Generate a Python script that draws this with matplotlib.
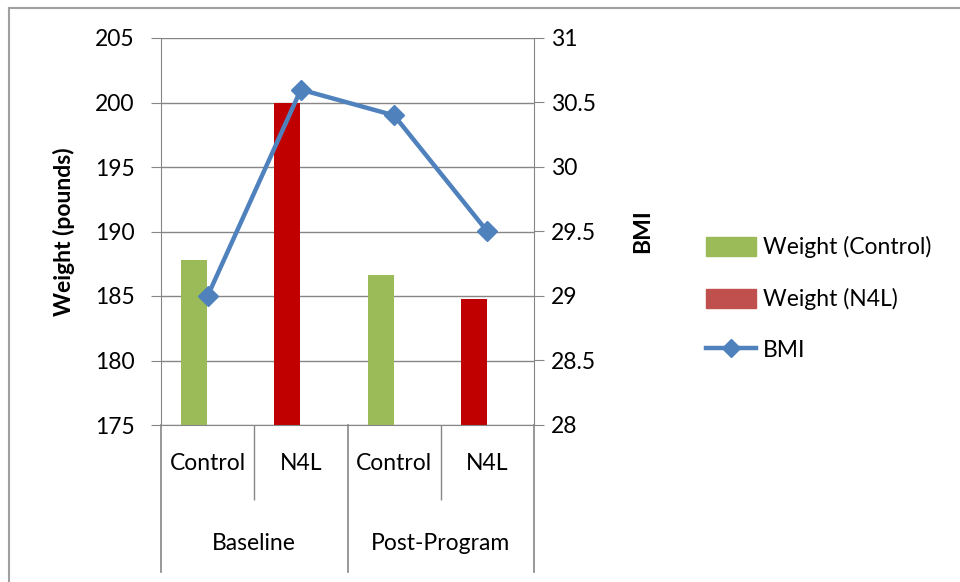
import numpy as np
import matplotlib.pyplot as plt
from matplotlib.patches import Patch
from matplotlib.lines import Line2D

plt.rcParams['font.family'] = ['Lato', 'DejaVu Sans']

subgroups = ['Control', 'N4L', 'Control', 'N4L']
groups = ['Baseline', 'Post-Program']
weight = [187.8, 200.0, 186.6, 184.8]
bmi = [29.0, 30.6, 30.4, 29.5]
bar_colors = ['#9BBB59', '#C00000', '#9BBB59', '#C00000']

grey = '#868686'
fs = 16.5
x = np.arange(len(subgroups))

fig = plt.figure(figsize=(9.6, 5.82), dpi=100)
ax = fig.add_axes([161/960, 1-425/582, 373/960, 387/582])
ax2 = ax.twinx()

ax.bar(x - 0.145, weight, width=0.28, color=bar_colors, zorder=2)
ax.set_ylim(175, 205)
ax.set_yticks(np.arange(175, 206, 5))
ax.set_xlim(-0.5, 3.5)
ax.yaxis.grid(True, color=grey, lw=1)
ax.set_axisbelow(True)

ax2.plot(x, bmi, color='#4F81BD', lw=3.2, marker='D', ms=10, zorder=3)
ax2.set_ylim(28, 31)
ax2.set_yticks(np.arange(28, 31.01, 0.5))
ax2.set_yticklabels(['%g' % v for v in np.arange(28, 31.01, 0.5)])

for a in (ax, ax2):
    for s in a.spines.values():
        s.set_color(grey)
    a.spines['top'].set_visible(False)
ax.spines['right'].set_visible(False)
ax2.spines['left'].set_visible(False)
ax2.spines['bottom'].set_visible(False)

ax.tick_params(axis='y', labelsize=fs, length=7, color=grey, pad=12)
ax2.tick_params(axis='y', labelsize=fs, length=7, color=grey, pad=5)

# category labels + separators
ax.set_xticks(x)
ax.set_xticklabels(subgroups, fontsize=fs)
ax.tick_params(axis='x', length=0, pad=20)
ax.set_xticks([0.5, 2.5], minor=True)
ax.tick_params(axis='x', which='minor', length=54, color=grey, width=1)

trans = ax.get_xaxis_transform()
for b in [-0.5, 1.5, 3.5]:
    ax.plot([b, b], [0, -0.38], transform=trans, color=grey, lw=1.2, clip_on=False)
for i, g in enumerate(groups):
    ax.text(2*i + 0.5, -0.305, g, transform=trans, ha='center', va='center', fontsize=fs)

ax.set_ylabel('Weight (pounds)', fontsize=fs, fontweight='bold', labelpad=14)
ax2.set_ylabel('BMI', fontsize=fs, fontweight='bold', labelpad=26)

handles = [Patch(color='#9BBB59', label='Weight (Control)'),
           Patch(color='#C0504D', label='Weight (N4L)'),
           Line2D([], [], color='#4F81BD', lw=3.2, marker='D', ms=9, label='BMI')]
fig.legend(handles=handles, loc='center left', bbox_to_anchor=(0.714, 0.487),
           frameon=False, fontsize=fs, handlelength=2.2, handleheight=0.9,
           labelspacing=1.3, handletextpad=0.3)

# outer frame
fig.add_artist(plt.Line2D([9/960, 9/960], [0, 1-8/582], color='#A0A0A0', lw=1.5))
fig.add_artist(plt.Line2D([9/960, 1], [1-8/582, 1-8/582], color='#A0A0A0', lw=1.5))

fig.savefig('out.png', dpi=100)
